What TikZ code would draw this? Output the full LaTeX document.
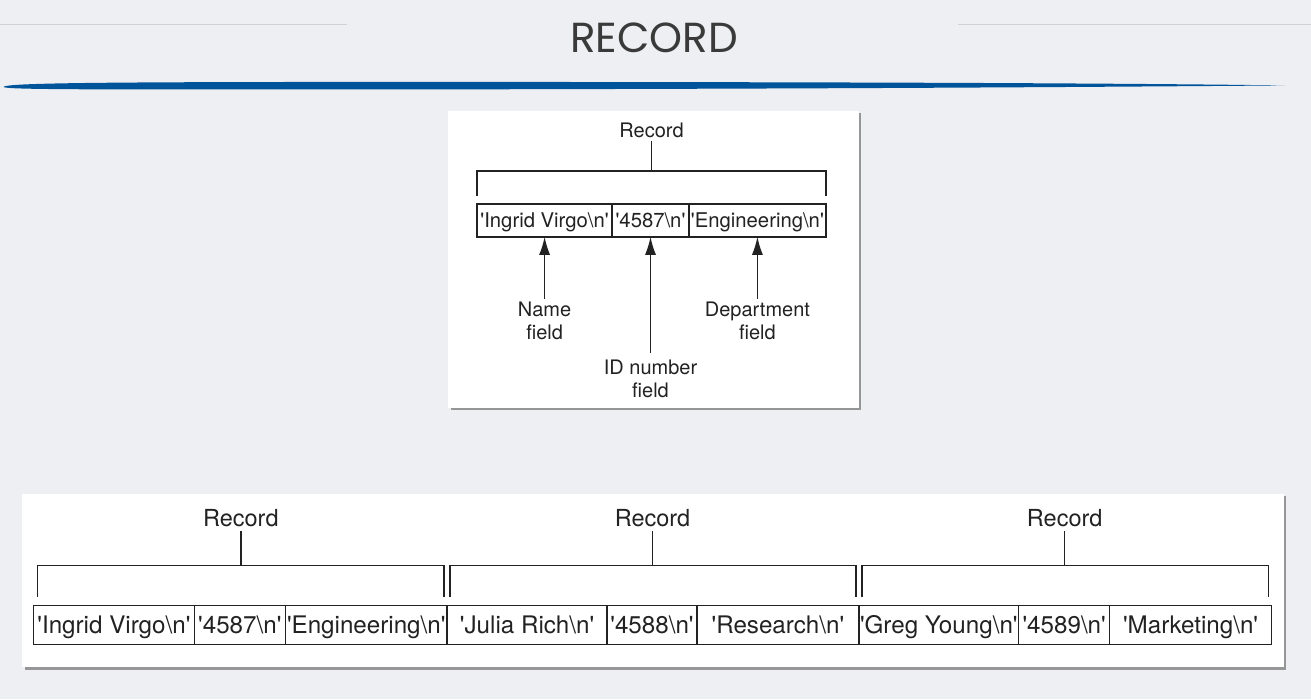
\documentclass[tikz,border=0pt]{standalone}
\usepackage{fontspec}
\setmainfont{TeX Gyre Heros}
\newfontfamily\titlefont{Poppins}
\usetikzlibrary{positioning,arrows.meta,shadows}

\definecolor{slidebg}{HTML}{EEEFF3}
\definecolor{rulegray}{HTML}{D2D2D6}
\definecolor{swooshblue}{HTML}{00559A}
\definecolor{titlegray}{HTML}{3A3A3A}
\definecolor{inkgray}{HTML}{222222}

\newcommand{\sq}{\textquotesingle}
\newcommand{\fld}[1]{\sq#1\textbackslash n\sq}

\begin{document}
\begin{tikzpicture}[x=1pt, y=-1pt, line width=1.4pt, color=inkgray,
    panel/.style = {fill=white, drop shadow={shadow xshift=2.5pt, shadow yshift=-2.5pt, fill=gray, opacity=0.8}},
    cell/.style = {draw, inner sep=0pt, outer sep=0pt, minimum height=33pt, text height=14.4pt, text depth=0pt, font=\fontsize{20.3}{24}\selectfont},
    bigcell/.style = {draw, inner sep=0pt, outer sep=0pt, minimum height=39pt, text height=17.4pt, text depth=0pt, font=\fontsize{24.2}{28}\selectfont},
    lbl/.style = {align=center, inner sep=3pt, font=\fontsize{20}{23}\selectfont},
    biglbl/.style = {inner sep=3pt, font=\fontsize{23.5}{28}\selectfont},
    pointer/.style = {-{Latex[length=18pt,width=11pt]}}]
    % slide
    \fill[slidebg] (0,0) rectangle (1311,700);
    \draw[rulegray, line width=1pt] (0,25) -- (347,25);
    \draw[rulegray, line width=1pt] (958,25) -- (1311,25);
    \node[font=\titlefont\fontsize{42}{46}\selectfont, text=titlegray] (title) at (654,37.5) {RECORD};
    \fill[swooshblue] (3,87) .. controls (5,83) and (100,82) .. (400,82)
        .. controls (800,82) and (1100,83) .. (1285,85.5)
        .. controls (1100,87) and (800,89) .. (400,89.5)
        .. controls (100,89.5) and (5,90) .. (3,87) -- cycle;

    % one record
    \path[panel] (448,111) rectangle (859,408);
    \node[cell, minimum width=135pt] (n1) at (544.5,220.5) {\fld{Ingrid Virgo}};
    \node[cell, minimum width=77pt, right=0pt of n1] (i1) {\fld{4587}};
    \node[cell, minimum width=137pt, right=0pt of i1] (d1) {\fld{Engineering}};
    \node[lbl] (rec1) at (651.5,130) {Record};
    \coordinate (brk1) at (651.5,171);
    \draw (rec1.south) -- (brk1);
    \draw ([yshift=8pt]n1.north west) |- (brk1) -| ([yshift=8pt]d1.north east);
    \node[lbl] (namelbl) at (544.5,321.5) {Name\\field};
    \node[lbl] (idlbl) at (650.5,379.5) {ID number\\field};
    \node[lbl] (deptlbl) at (757.5,321.5) {Department\\field};
    \draw[pointer] (namelbl.north) -- (n1.south);
    \draw[pointer] ([yshift=4pt]idlbl.north) -- (i1.south);
    \draw[pointer] (deptlbl.north) -- (d1.south);

    % three records in a row
    \path[panel] (22,494) rectangle (1284,668);
    \node[bigcell, minimum width=161pt] (n2) at (113.5,625.5) {\fld{Ingrid Virgo}};
    \node[bigcell, minimum width=91pt, right=0pt of n2] (i2) {\fld{4587}};
    \node[bigcell, minimum width=162pt, right=0pt of i2] (d2) {\fld{Engineering}};
    \node[bigcell, minimum width=160pt, right=0pt of d2] (n3) {\fld{Julia Rich}};
    \node[bigcell, minimum width=90pt, right=0pt of n3] (i3) {\fld{4588}};
    \node[bigcell, minimum width=162pt, right=0pt of i3] (d3) {\fld{Research}};
    \node[bigcell, minimum width=160pt, right=0pt of d3] (n4) {\fld{Greg Young}};
    \node[bigcell, minimum width=91pt, right=0pt of n4] (i4) {\fld{4589}};
    \node[bigcell, minimum width=162pt, right=0pt of i4] (d4) {\fld{Marketing}};
    \node[biglbl] (rec2) at (240.5,519) {Record};
    \node[biglbl] (rec3) at (652.5,519) {Record};
    \node[biglbl] (rec4) at (1065,519) {Record};
    \coordinate (brk2) at (240.5,566);
    \coordinate (brk3) at (652.5,566);
    \coordinate (brk4) at (1065,566);
    \draw (rec2.south) -- (brk2);
    \draw (rec3.south) -- (brk3);
    \draw (rec4.south) -- (brk4);
    \draw ([xshift=4pt,yshift=9pt]n2.north west) |- (brk2) -| ([xshift=-3pt,yshift=9pt]d2.north east);
    \draw ([xshift=3pt,yshift=9pt]n3.north west) |- (brk3) -| ([xshift=-3pt,yshift=9pt]d3.north east);
    \draw ([xshift=3pt,yshift=9pt]n4.north west) |- (brk4) -| ([xshift=-3pt,yshift=9pt]d4.north east);
\end{tikzpicture}
\end{document}
